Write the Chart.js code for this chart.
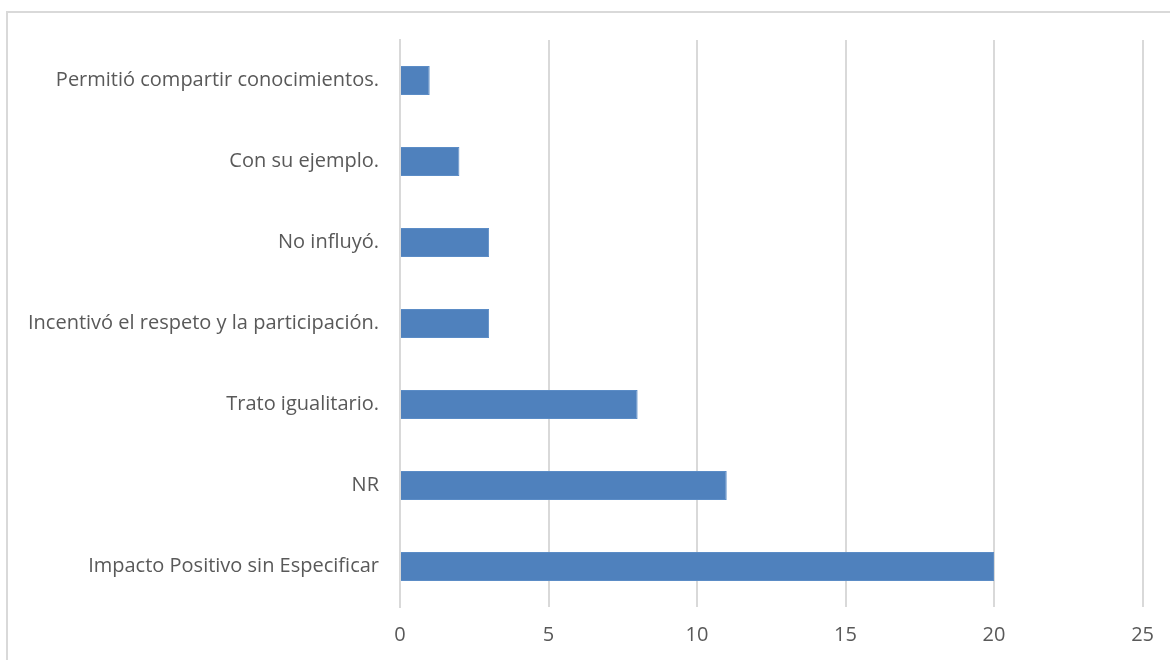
<!DOCTYPE html>
<html>
<head>
<meta charset="utf-8">
<script src="https://cdn.jsdelivr.net/npm/chart.js@4/dist/chart.umd.min.js"></script>
<style>
  html, body { margin: 0; padding: 0; background: #fff; overflow: hidden; }
  #frame { position: absolute; left: 6px; top: 11px; width: 1200px; height: 700px; border: 2px solid #d9d9d9; box-sizing: border-box; }
  #wrap { position: absolute; left: 0; top: 0; width: 1170px; height: 660px; }
</style>
</head>
<body>
<div id="frame"></div>
<div id="wrap"><canvas id="chart"></canvas></div>
<script>
// categorías de arriba hacia abajo, como en el gráfico
const categories = [
    'Permitió compartir conocimientos.',
    'Con su ejemplo.',
    'No influyó.',
    'Incentivó el respeto y la participación.',
    'Trato igualitario.',
    'NR',
    'Impacto Positivo sin Especificar',
];
const values = [1, 2, 3, 3, 8, 11, 20];
const xTicks = [0, 5, 10, 15, 20, 25];

Chart.defaults.font.family = '"Open Sans", Lato, sans-serif';
Chart.defaults.font.size = 20;
Chart.defaults.color = '#595959';

new Chart(document.getElementById('chart'), {
    type: 'bar',
    data: {
        labels: categories,
        datasets: [{
            data: values,
            backgroundColor: '#4F81BD',
            borderColor: '#5b8cc6',
            borderWidth: 1,
            barPercentage: 0.9,
            categoryPercentage: 0.4,
        }],
    },
    options: {
        indexAxis: 'y',
        responsive: true,
        maintainAspectRatio: false,
        animation: false,
        layout: { padding: { top: 40, right: 27, left: 0, bottom: 0 } },
        plugins: { legend: { display: false }, tooltip: { enabled: false } },
        scales: {
            x: {
                min: 0, max: 25,
                afterBuildTicks: (s) => { s.ticks = xTicks.map((v) => ({ value: v })); },
                afterFit: (s) => { s.height = 53; },
                grid: { color: '#d9d9d9', lineWidth: 2, drawTicks: false },
                border: { display: false },
                ticks: { padding: 16 },
            },
            y: {
                afterFit: (s) => { s.width = 400; },
                grid: { display: false, drawTicks: false },
                border: { color: '#d9d9d9', width: 2 },
                ticks: { padding: 21 },
            },
        },
    },
});
</script>
</body>
</html>
